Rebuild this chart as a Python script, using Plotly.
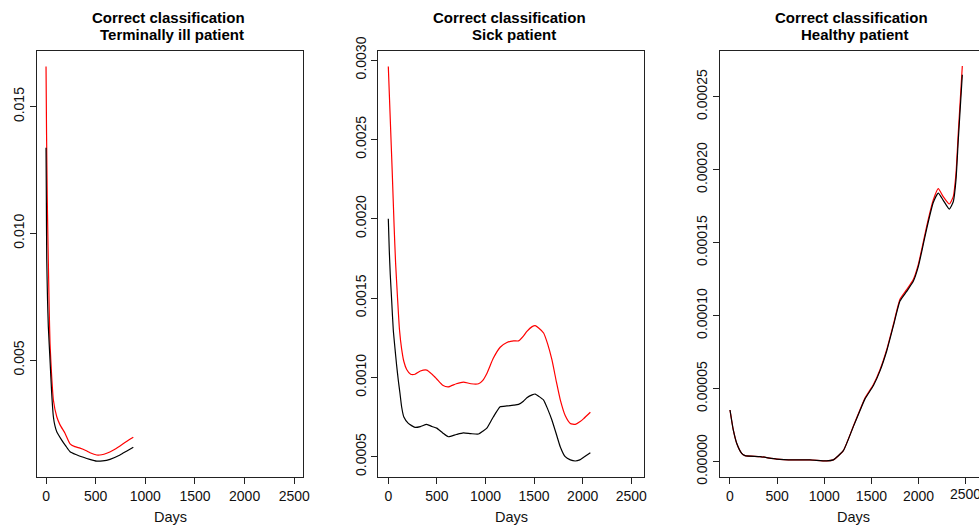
import plotly.graph_objects as go

W, H = 979, 525

# ---------------- data ----------------
# Panel 1: Terminally ill patient
t1_red_days = [0, 5, 12, 18, 23, 32, 40, 57, 74, 108, 141, 191, 242, 290, 342, 400, 443, 510, 560, 611, 680, 745, 810, 879]
t1_red_vals = [0.01659, 0.0140, 0.0115, 0.0100, 0.0089, 0.0070, 0.00566, 0.00434, 0.00342, 0.00276, 0.00244, 0.00211,
               0.00169, 0.00158, 0.00152, 0.00143, 0.00134, 0.00125, 0.00126, 0.00132, 0.00145, 0.00161, 0.00178, 0.00195]
t1_blk_days = [0, 3, 7, 15, 23, 40, 57, 74, 90, 108, 158, 200, 242, 300, 376, 440, 510, 570, 644, 745, 810, 879]
t1_blk_vals = [0.01338, 0.0115, 0.0090, 0.0074, 0.00632, 0.0050, 0.00369, 0.00276, 0.00240, 0.00217, 0.00184, 0.00160,
               0.00138, 0.00127, 0.00116, 0.00108, 0.00101, 0.00102, 0.00108, 0.00125, 0.00140, 0.00156]

# Panel 2: Sick patient
s_red_days = [0, 20, 40, 60, 75, 95, 115, 137, 160, 189, 230, 275, 330, 395, 450, 498, 560, 618, 700, 773, 850, 928,
              970, 1014, 1080, 1151, 1220, 1290, 1340, 1390, 1426, 1480, 1512, 1550, 1598, 1640, 1684, 1730, 1769,
              1820, 1873, 1924, 1970, 2010, 2079]
s_red_vals = [0.00296, 0.00263, 0.00230, 0.00195, 0.00172, 0.00150, 0.00130, 0.00118, 0.00110, 0.00105, 0.00102,
              0.00102, 0.00104, 0.001046, 0.00102, 0.00099, 0.00095, 0.00094, 0.00096, 0.00097, 0.00096, 0.00096,
              0.00098, 0.001025, 0.00112, 0.00119, 0.00122, 0.00123, 0.00123, 0.00126, 0.00129, 0.00132, 0.001326,
              0.00131, 0.00128, 0.00121, 0.00111, 0.00097, 0.00086, 0.00076, 0.00071, 0.000704, 0.00072, 0.00074,
              0.00078]
s_blk_days = [0, 10, 20, 35, 51, 69, 85, 103, 120, 137, 160, 206, 275, 330, 395, 450, 498, 560, 618, 700, 773, 850,
              928, 970, 1014, 1080, 1151, 1220, 1290, 1340, 1390, 1426, 1480, 1512, 1550, 1598, 1640, 1684, 1730,
              1769, 1820, 1873, 1924, 1970, 2010, 2079]
s_blk_vals = [0.00200, 0.00180, 0.00165, 0.00148, 0.00130, 0.00118, 0.00108, 0.00098, 0.00090, 0.000815, 0.00075,
              0.00071, 0.000685, 0.00069, 0.000704, 0.00069, 0.00068, 0.00065, 0.000626, 0.00064, 0.00065, 0.000645,
              0.000643, 0.00066, 0.00068, 0.00075, 0.000815, 0.00082, 0.000825, 0.00083, 0.00085, 0.000872, 0.00089,
              0.000895, 0.00088, 0.000857, 0.00080, 0.00073, 0.00064, 0.000563, 0.00050, 0.00048, 0.000473, 0.00048,
              0.000496, 0.000525]

# Panel 3: Healthy patient
h_days = [0, 35, 71, 124, 159, 318, 495, 672, 848, 1025, 1096, 1202, 1308, 1379, 1432, 1520, 1591, 1662, 1732,
          1803, 1874, 1944, 1997, 2033, 2086, 2156, 2209, 2262, 2326, 2368, 2397, 2421, 2464]
h_blk_vals = [0.0000354, 0.0000217, 0.0000126, 0.0000057, 0.0000041, 0.0000034, 0.0000018, 0.0000012, 0.0000012,
              0.0000005, 0.0000012, 0.0000075, 0.0000240, 0.0000350, 0.0000430, 0.0000520, 0.0000622, 0.0000758,
              0.0000928, 0.0001100, 0.0001166, 0.0001235, 0.0001336, 0.0001437, 0.0001595, 0.0001775, 0.000184,
              0.000179, 0.000173, 0.000178, 0.000193, 0.000220, 0.000265]
h_red_vals = [0.0000354, 0.0000217, 0.0000126, 0.0000057, 0.0000041, 0.0000034, 0.0000018, 0.0000012, 0.0000012,
              0.0000005, 0.0000012, 0.0000076, 0.0000243, 0.0000356, 0.0000436, 0.0000527, 0.0000630, 0.0000767,
              0.0000938, 0.0001112, 0.0001178, 0.0001248, 0.0001350, 0.0001452, 0.0001612, 0.0001792, 0.000187,
              0.0001815, 0.0001765, 0.0001815, 0.0001975, 0.000225, 0.000271]

x_ticks = [0, 500, 1000, 1500, 2000, 2500]
y1_ticks = [0.005, 0.010, 0.015]
y1_text = ["0.005", "0.010", "0.015"]
y2_ticks = [0.0005, 0.0010, 0.0015, 0.0020, 0.0025, 0.0030]
y2_text = ["0.0005", "0.0010", "0.0015", "0.0020", "0.0025", "0.0030"]
y3_ticks = [0.0, 0.00005, 0.00010, 0.00015, 0.00020, 0.00025]
y3_text = ["0.00000", "0.00005", "0.00010", "0.00015", "0.00020", "0.00025"]

titles = ["Terminally ill patient", "Sick patient", "Healthy patient"]

# ---------------- layout geometry (pixels) ----------------
panels = [
    dict(x0=36.7, x1=303.3, xr=[-94, 2591], yr=[0.000394, 0.017210], yt=y1_ticks, ytt=y1_text),
    dict(x0=378.3, x1=644.3, xr=[-103, 2634], yr=[0.000374, 0.003059], yt=y2_ticks, ytt=y2_text),
    dict(x0=720.0, x1=979.0, xr=[-106, 2641], yr=[-0.0000103, 0.0002815], yt=y3_ticks, ytt=y3_text),
]
top_px, bot_px = 50.7, 476.7
ydom = [1 - bot_px / H, 1 - top_px / H]

FONT = "Liberation Sans, Arial, Helvetica, sans-serif"

fig = go.Figure()
series = [
    (t1_red_days, t1_red_vals, t1_blk_days, t1_blk_vals),
    (s_red_days, s_red_vals, s_blk_days, s_blk_vals),
    (h_days, h_red_vals, h_days, h_blk_vals),
]
for i, (rd, rv, bd, bv) in enumerate(series):
    xa = "x" if i == 0 else f"x{i+1}"
    ya = "y" if i == 0 else f"y{i+1}"
    fig.add_trace(go.Scatter(x=rd, y=rv, mode="lines", xaxis=xa, yaxis=ya,
                             line=dict(color="#FF0000", width=1.2, shape="spline", smoothing=0.5),
                             showlegend=False, hoverinfo="skip"))
    fig.add_trace(go.Scatter(x=bd, y=bv, mode="lines", xaxis=xa, yaxis=ya,
                             line=dict(color="#000000", width=1.2, shape="spline", smoothing=0.5),
                             showlegend=False, hoverinfo="skip"))

layout = dict(width=W, height=H, margin=dict(l=0, r=0, t=0, b=0, autoexpand=False),
              template="none", showlegend=False,
              paper_bgcolor="white", plot_bgcolor="white",
              font=dict(family=FONT, color="#000000", size=14))
annotations = []
for i, p in enumerate(panels):
    sfx = "" if i == 0 else str(i + 1)
    xdom = [p["x0"] / W, min(1.0, p["x1"] / W)]
    layout[f"xaxis{sfx}"] = dict(
        domain=xdom, range=p["xr"], tickvals=x_ticks, ticktext=[str(v) for v in x_ticks],
        ticks="outside", ticklen=6, tickcolor="#222", tickwidth=1, automargin=False,
        showline=True, linecolor="#222", linewidth=1, mirror=True,
        showgrid=False, zeroline=False, anchor=f"y{sfx}",
        tickfont=dict(size=14, family=FONT, color="#111"))
    layout[f"yaxis{sfx}"] = dict(
        domain=ydom, range=p["yr"], tickvals=p["yt"], ticktext=p["ytt"],
        ticks="outside", ticklen=6, tickcolor="#222", tickwidth=1, tickangle=-90, automargin=False,
        showline=True, linecolor="#222", linewidth=1, mirror=(i < 2),
        showgrid=False, zeroline=False, anchor=f"x{sfx}",
        tickfont=dict(size=14, family=FONT, color="#111"))
    cx = (p["x0"] + (p["x1"] if i < 2 else 986.0)) / 2
    annotations.append(dict(text="<b>Correct classification</b>", x=(cx - 2) / W, y=1 - 18 / H,
                            xref="paper", yref="paper", xanchor="center", yanchor="middle",
                            showarrow=False, font=dict(size=15, family=FONT, color="#000")))
    annotations.append(dict(text=f"<b>{titles[i]}</b>", x=(cx + 2.3) / W, y=1 - 35 / H,
                            xref="paper", yref="paper", xanchor="center", yanchor="middle",
                            showarrow=False, font=dict(size=15, family=FONT, color="#000")))
    annotations.append(dict(text="Days", x=cx / W, y=1 - 517 / H,
                            xref="paper", yref="paper", xanchor="center", yanchor="middle",
                            showarrow=False, font=dict(size=14.5, family=FONT, color="#111")))

# last tick label of the right panel is partly cut by the image edge in the reference
annotations.append(dict(text=str(x_ticks[-1]), x=x_ticks[-1], xref="x3", y=1 - 493.5 / H, yref="paper",
                        xanchor="center", yanchor="middle", showarrow=False,
                        font=dict(size=14, family=FONT, color="#111")))

layout["annotations"] = annotations
fig.update_layout(**layout)
fig.write_html("out.html")
